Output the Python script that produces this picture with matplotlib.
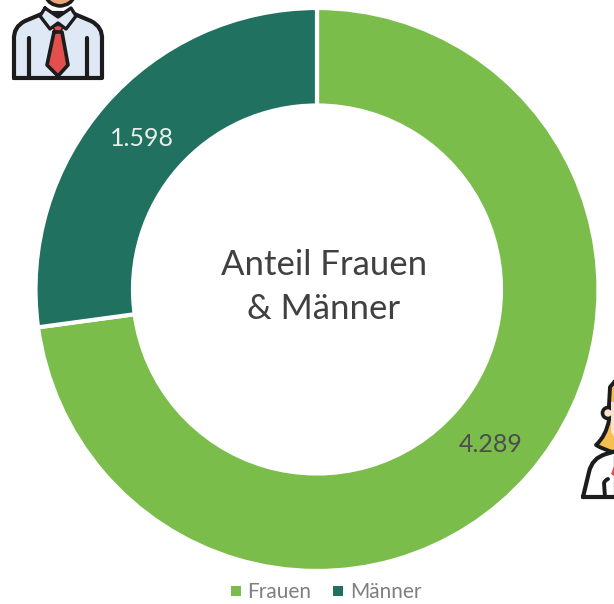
import matplotlib
matplotlib.use('Agg')
import matplotlib.pyplot as plt
from matplotlib.patches import Polygon, PathPatch, Circle
from matplotlib.path import Path

# Daten
kategorien = ['Frauen', 'Männer']
werte = [4289, 1598]
wert_labels = ['4.289', '1.598']
farben = ['#7abd4b', '#217160']

plt.rcParams['font.family'] = ['Lato', 'DejaVu Sans']

W, H = 614, 604
LINE = '#1c1c1c'


def kurve(ax, punkte, fc='none', lw=3.0, ec=LINE, z=5):
    """Zeichnet einen Pfad aus Punkten (Pixel), mit quadratischen Kurven wo 3 Werte"""
    verts, codes = [], []
    for i, p in enumerate(punkte):
        if len(p) == 4:
            verts += [(p[0], p[1]), (p[2], p[3])]
            codes += [Path.CURVE3, Path.CURVE3]
        else:
            verts.append(p)
            codes.append(Path.MOVETO if i == 0 else Path.LINETO)
    ax.add_patch(PathPatch(Path(verts, codes), fc=fc, ec=ec, lw=lw, zorder=z,
                           capstyle='round', joinstyle='round'))


def mann(ax):
    # Hals
    kurve(ax, [(46, -3), (49, 5, 60, 6), (71, 5, 74, -3)], fc='#eda678', lw=2.6)
    # Hemd
    kurve(ax, [(14, 78), (14, 40), (13, 27, 25, 21), (44, 13), (72, 13), (91, 21),
               (103, 27, 102, 40), (102, 78), (14, 78)], fc='#dfe8f5')
    # Kragen
    kurve(ax, [(45, 8), (58, 17), (71, 8), (76, 16), (66, 29), (58, 23), (50, 29), (40, 16), (45, 8)],
          fc='#dfe8f5', lw=2.4, z=6)
    # Krawatte
    kurve(ax, [(54, 32), (62, 32), (68, 65), (58, 76), (47, 65), (54, 32)], fc='#e2504e', lw=2.6, z=6)
    kurve(ax, [(53, 27), (58, 25), (63, 27), (61, 31), (55, 31), (53, 27)], fc='#e2504e', lw=1.2, z=7)
    # Arme
    ax.plot([29, 29], [38, 77], color=LINE, lw=3, zorder=6, solid_capstyle='round')
    ax.plot([87, 87], [38, 77], color=LINE, lw=3, zorder=6, solid_capstyle='round')


def frau(ax):
    # Haare
    kurve(ax, [(616, 380), (610, 387), (609, 405), (609, 420), (606, 436, 596, 445),
               (604, 450, 616, 453)], fc='#f5c04f', lw=2.8)
    ax.add_patch(Circle((608, 413), 5.5, fc='#f8e3d0', ec=LINE, lw=2.6, zorder=6))
    kurve(ax, [(616, 402), (611, 402), (611, 432), (616, 440)], fc='#f8e3d0', ec='none', lw=0, z=7)
    # Oberkoerper
    kurve(ax, [(583, 497), (589, 472), (592, 458, 606, 454), (616, 451), (616, 497), (583, 497)], fc='white', lw=3)
    ax.add_patch(Polygon([(611, 474), (614, 466), (614, 476)], fc='#e2504e', ec='none', zorder=6))
    kurve(ax, [(605, 497), (604, 483), (605, 480, 608, 479)], lw=2.8, z=6)


fig = plt.figure(figsize=(W / 100, H / 100), dpi=100)
ax = fig.add_axes([0, 0, 1, 1])
ax.set_xlim(0, W)
ax.set_ylim(0, H)
ax.set_aspect('equal')
ax.axis('off')

wedges, _ = ax.pie(werte, colors=farben, startangle=90, counterclock=False,
                   center=(317, H - 289.5), radius=281.5, frame=True,
                   wedgeprops=dict(width=97.5, edgecolor='white', linewidth=3))
ax.set_xlim(0, W)
ax.set_ylim(0, H)
ax.axis('off')

# Wertelabels
ax.text(491, H - 445, wert_labels[0], color='#4d4d4d', fontsize=18, ha='center', va='center')
ax.text(142, H - 139, wert_labels[1], color='#e8efe9', fontsize=18, ha='center', va='center')

# Mitte
ax.text(324, H - 265, 'Anteil Frauen', color='#404040', fontsize=25, ha='center', va='center')
ax.text(324, H - 309, '& Männer', color='#404040', fontsize=25, ha='center', va='center')

# Legende
ax.scatter([236], [H - 591], marker='s', s=50, color=farben[0], linewidths=0)
ax.text(247, H - 592, kategorien[0], color='#7f7f7f', fontsize=15, ha='left', va='center')
ax.scatter([338], [H - 591], marker='s', s=50, color=farben[1], linewidths=0)
ax.text(350, H - 592, kategorien[1], color='#7f7f7f', fontsize=15, ha='left', va='center')

# Icons in Pixelkoordinaten
ic = fig.add_axes([0, 0, 1, 1], facecolor='none')
ic.set_xlim(0, W)
ic.set_ylim(H, 0)
ic.axis('off')
mann(ic)
frau(ic)

fig.savefig('out.png', dpi=100)
